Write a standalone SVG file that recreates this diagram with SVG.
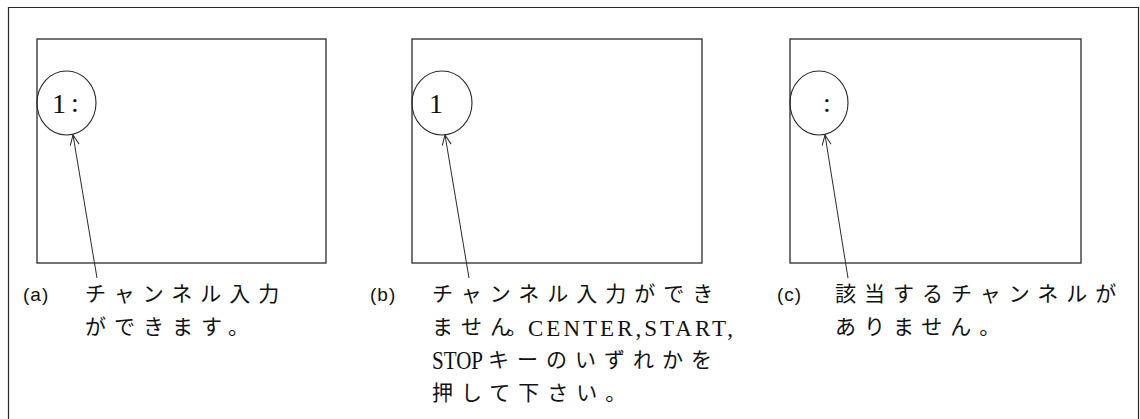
<svg xmlns="http://www.w3.org/2000/svg" width="1140" height="419" viewBox="0 0 1140 419">
<defs>
<style>
.frame{fill:none;stroke:#2a2a2a;stroke-width:1.2}
.scr{fill:none;stroke:#2a2a2a;stroke-width:1.3}
.bub{fill:none;stroke:#2a2a2a;stroke-width:1.1}
.con{stroke:#2a2a2a;stroke-width:1;fill:none}
.num{font-family:"Liberation Serif",serif;font-size:28px;fill:#111}
.lbl{font-family:"Liberation Sans",sans-serif;font-size:19px;fill:#111;letter-spacing:1px}
.jp{font-family:"Noto Sans CJK JP","Noto Sans CJK SC",sans-serif;font-size:21px;fill:#111;letter-spacing:8px}
.jp0{font-family:"Noto Sans CJK JP","Noto Sans CJK SC",sans-serif;font-size:21px;fill:#111}
.lat{font-family:"Liberation Serif",serif;font-size:23px;fill:#111}
.lat2{font-family:"Liberation Serif",serif;font-size:25px;fill:#111}
</style>
<marker id="arr" viewBox="0 0 12 12" refX="11" refY="6" markerWidth="12" markerHeight="12" markerUnits="userSpaceOnUse" orient="auto">
<path d="M1,1.5 L11,6 L1,10.5" fill="none" stroke="#2a2a2a" stroke-width="1"/>
</marker>
</defs>
<path class="frame" d="M8.5,419 L8.5,7.5 L1138.5,7.5 L1138.5,419"/>
<g id="panel-a">
<rect class="scr" x="37" y="39" width="289" height="224"/>
<ellipse class="bub" cx="66.5" cy="103" rx="29.5" ry="32"/>
<text class="num" x="52" y="113">1</text>
<text class="num" x="71" y="112">:</text>
<text class="lbl" x="23" y="301">(a)</text>
<text class="jp" x="85" y="301">チャンネル入力</text>
<text class="jp" x="85" y="334">ができます。</text>
</g>
<g id="panel-b">
<rect class="scr" x="412" y="39" width="290" height="224"/>
<ellipse class="bub" cx="442" cy="103" rx="30" ry="32"/>
<text class="num" x="429" y="113">1</text>
<text class="lbl" x="370" y="301">(b)</text>
<text class="jp" x="432" y="301">チャンネル入力ができ</text>
<text class="jp0" x="432 461 490 506" y="334">ません。</text>
<text class="lat" x="528" y="336" textLength="205" lengthAdjust="spacing">CENTER,START,</text>
<text class="lat2" x="432" y="369" textLength="51" lengthAdjust="spacingAndGlyphs">STOP</text>
<text class="jp" x="488" y="367">キーのいずれかを</text>
<text class="jp" x="432" y="400">押して下さい。</text>
</g>
<g id="panel-c">
<rect class="scr" x="790" y="39" width="291" height="224"/>
<ellipse class="bub" cx="819" cy="103" rx="29" ry="32"/>
<text class="num" x="823" y="112">:</text>
<text class="lbl" x="777" y="301">(c)</text>
<text class="jp" x="835" y="301">該当するチャンネルが</text>
<text class="jp" x="835" y="334">ありません。</text>
</g>
<g id="connectors">
<line class="con" x1="97" y1="278" x2="73" y2="135" marker-end="url(#arr)"/>
<line class="con" x1="469" y1="278" x2="445" y2="135" marker-end="url(#arr)"/>
<line class="con" x1="848" y1="278" x2="825" y2="135" marker-end="url(#arr)"/>
</g>
</svg>
